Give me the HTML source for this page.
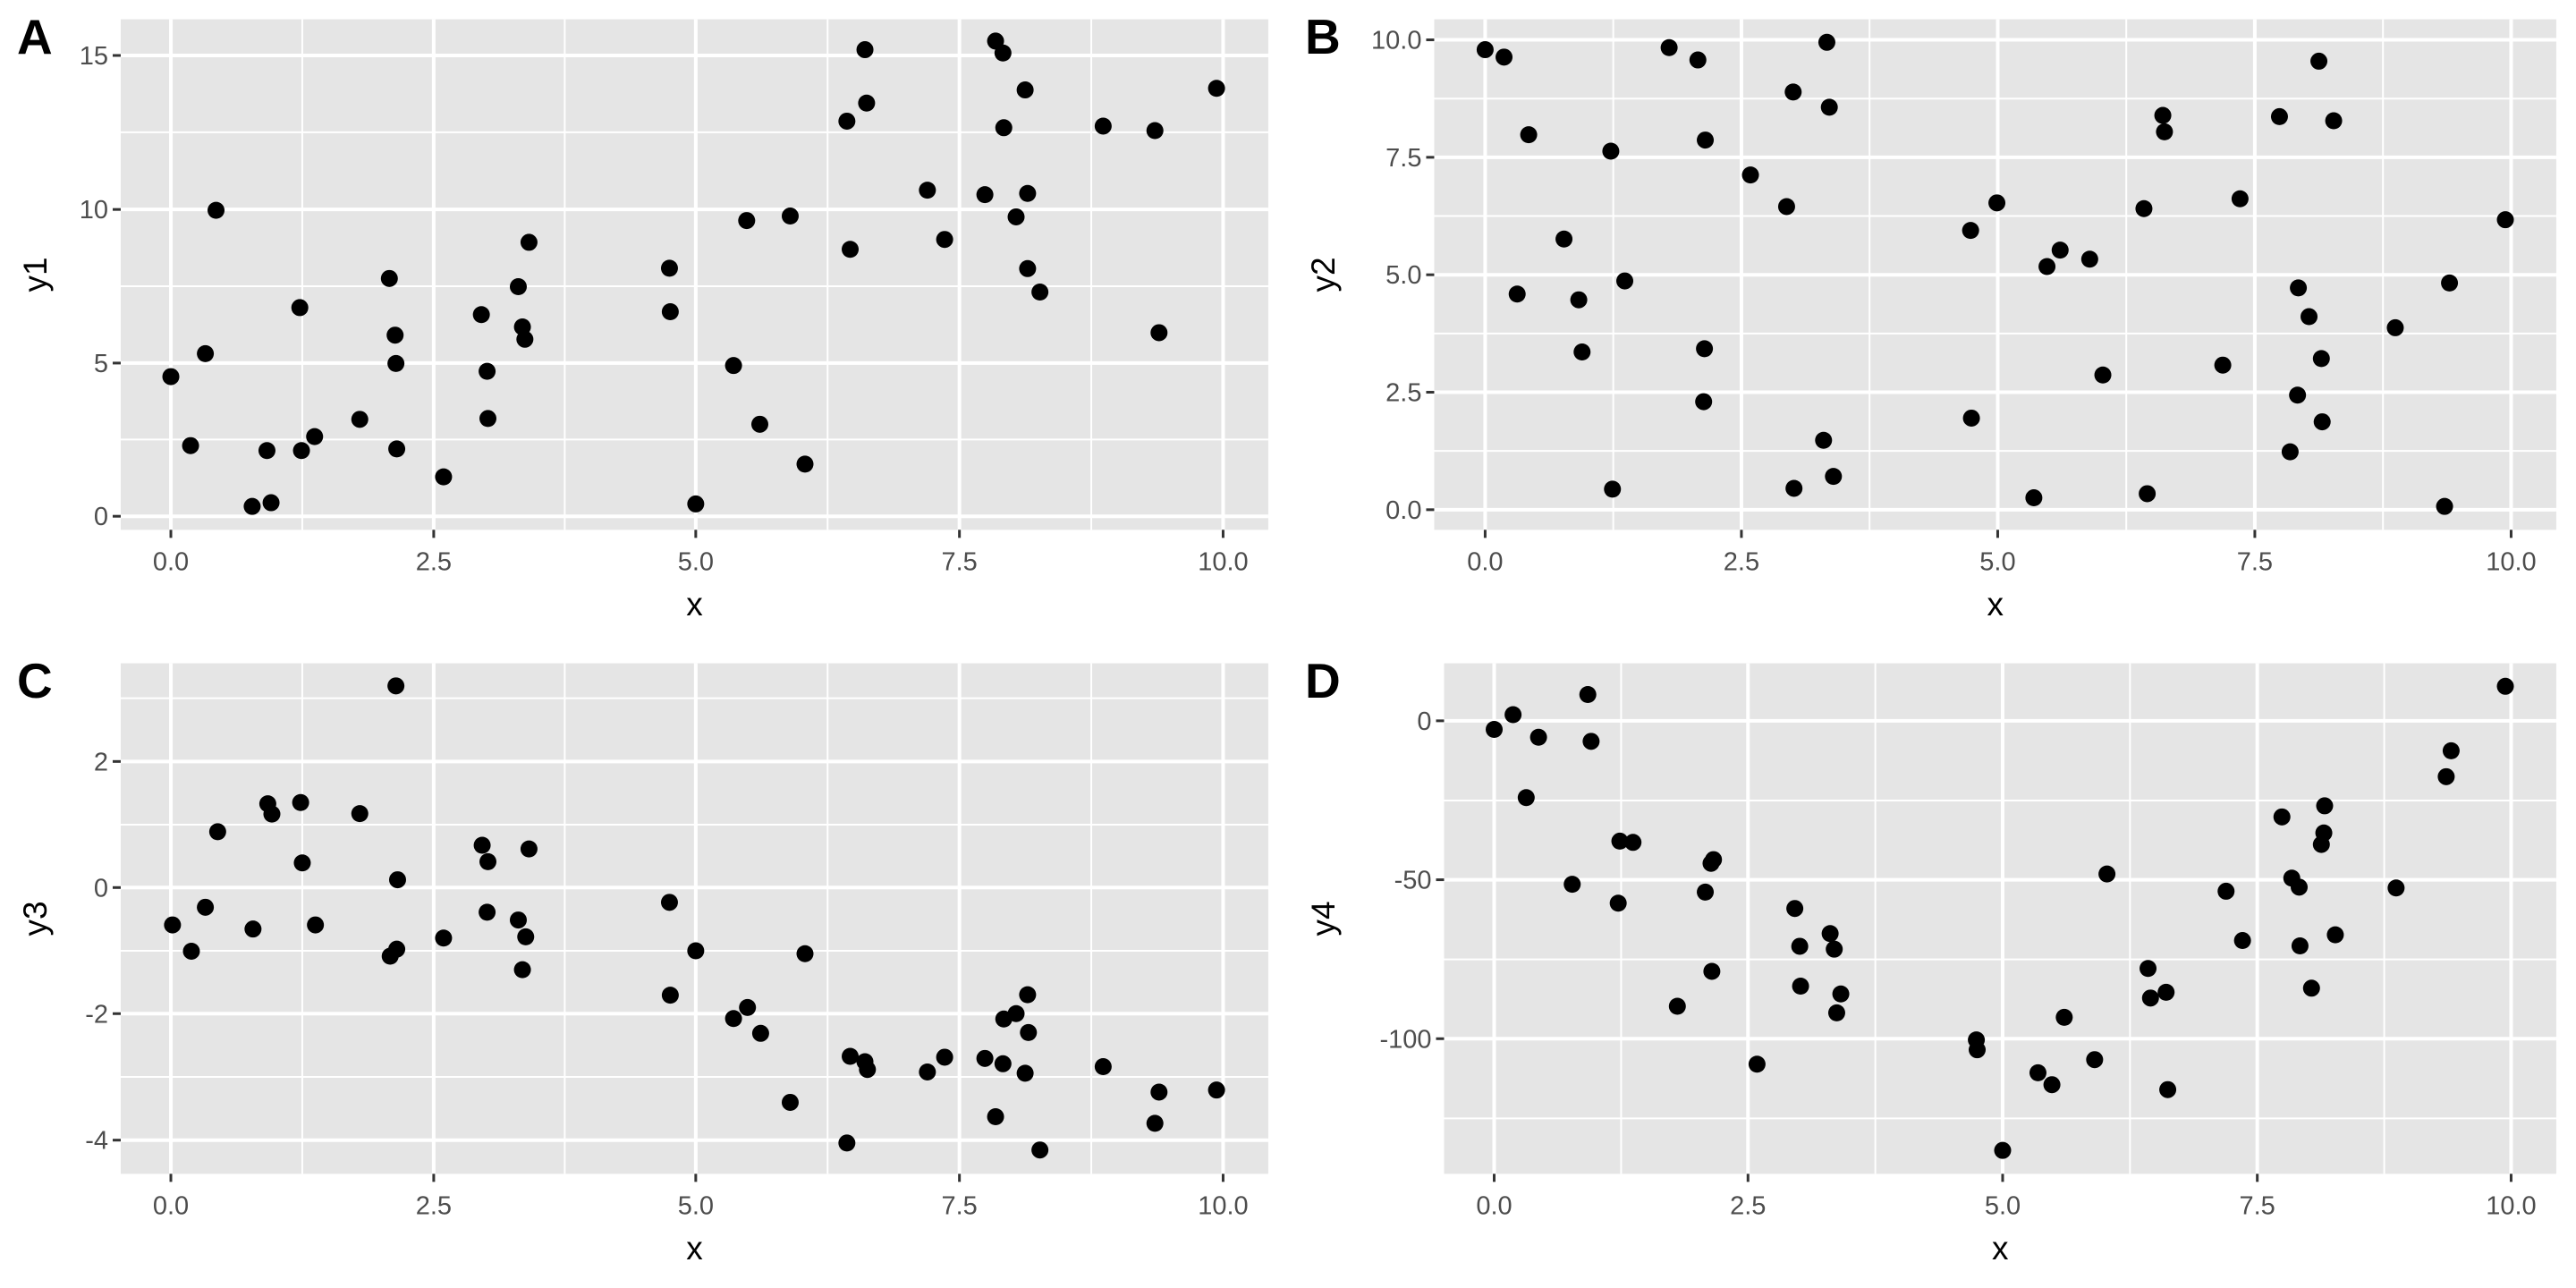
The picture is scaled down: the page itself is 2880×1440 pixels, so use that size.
<!DOCTYPE html>
<html><head><meta charset="utf-8">
<style>html,body{margin:0;padding:0;background:#fff;}svg{display:block;}</style>
</head><body>
<svg id="s" xmlns="http://www.w3.org/2000/svg" width="2880" height="1440" viewBox="0 0 2880 1440" font-family="Liberation Sans, Arial, sans-serif"></svg>
<script>
var S=document.getElementById('s');
var kx=1440/1568, ky=720/1568;
function el(t,a,txt){var e=document.createElementNS('http://www.w3.org/2000/svg',t);for(var k in a)e.setAttribute(k,a[k]);if(txt!==undefined)e.textContent=txt;S.appendChild(e);return e;}
var panels=[
{ox:0,oy:0,L:'A',yt:'y1',bg:[147,1544,47,1290],xs:[208,528,847,1168,1489],
 ys:[[1257,'0'],[884,'5'],[510,'10'],[135,'15']],ym:[1070,697,322],
 p:[[208,917],[232,1085],[250,861],[263,512],[307,1233],[325,1097],[330,1224],[365,749],[367,1097],[383,1063],[438,1021],[474,678],[481,816],[482,885],[483,1093],[540,1161],[586,766],[593,904],[594,1019],[631,698],[636,796],[639,826],[644,590],[815,653],[816,759],[847,1227],[893,890],[909,537],[925,1033],[962,526],[980,1130],[1031,295],[1035,607],[1053,121],[1055,251],[1129,463],[1150,583],[1199,474],[1212,100],[1221,129],[1222,311],[1237,528],[1248,219],[1251,471],[1251,654],[1266,711],[1343,307],[1406,318],[1411,810],[1481,215]]},
{ox:1440,oy:0,L:'B',yt:'y2',bg:[178,1544,47,1290],xs:[240,552,864,1177,1489],
 ys:[[1241,'0.0'],[955,'2.5'],[669,'5.0'],[383,'7.5'],[97,'10.0']],ym:[1098,812,526,240],
 p:[[240,121],[263,139],[293,328],[279,716],[336,582],[354,730],[358,857],[393,368],[395,1191],[410,684],[464,116],[499,146],[508,341],[507,849],[506,978],[563,426],[607,503],[615,224],[616,1189],[652,1072],[656,103],[659,261],[664,1160],[831,561],[832,1018],[863,494],[908,1212],[924,649],[940,609],[976,631],[992,913],[1042,508],[1046,1202],[1065,281],[1067,321],[1138,889],[1159,484],[1207,284],[1220,1100],[1229,962],[1230,701],[1243,771],[1255,149],[1258,873],[1259,1027],[1273,294],[1348,798],[1408,1233],[1414,689],[1482,535]]},
{ox:0,oy:720,L:'C',yt:'y3',bg:[147,1544,47,1290],xs:[208,528,847,1168,1489],
 ys:[[1208,'-4'],[900,'-2'],[593,'0'],[286,'2']],ym:[1054,747,440,132],
 p:[[210,684],[233,748],[250,641],[265,457],[308,694],[326,389],[331,414],[366,386],[368,533],[384,684],[438,413],[475,760],[483,743],[484,574],[482,102],[540,716],[587,490],[594,530],[593,653],[631,672],[636,793],[640,713],[644,499],[815,629],[816,855],[847,747],[893,912],[910,885],[926,948],[962,1116],[980,754],[1031,1215],[1035,1004],[1053,1017],[1056,1036],[1129,1042],[1150,1006],[1199,1009],[1212,1151],[1221,1022],[1222,913],[1237,900],[1248,1045],[1251,854],[1252,946],[1266,1232],[1343,1029],[1406,1167],[1411,1091],[1481,1086]]},
{ox:1440,oy:720,L:'D',yt:'y4',bg:[190,1544,47,1290],xs:[251,560,870,1180,1489],
 ys:[[961,'-100'],[574,'-50'],[187,'0']],ym:[1155,768,381],
 p:[[251,208],[274,172],[290,374],[305,227],[346,585],[365,123],[369,237],[402,631],[404,480],[420,483],[474,882],[508,604],[515,534],[518,525],[516,797],[571,1023],[617,644],[623,736],[624,833],[660,705],[665,743],[668,898],[673,852],[838,964],[839,988],[870,1233],[913,1044],[930,1073],[945,909],[982,1012],[997,560],[1047,790],[1050,862],[1069,848],[1071,1085],[1142,602],[1162,722],[1210,421],[1222,570],[1231,592],[1232,735],[1246,838],[1258,488],[1261,460],[1262,394],[1275,708],[1349,594],[1410,323],[1416,260],[1482,103]]}
];
var xl=['0.0','2.5','5.0','7.5','10.0'];
panels.forEach(function(P){
 function X(z){return P.ox+z*kx;} function Y(z){return P.oy+z*ky;}
 var x0=X(P.bg[0]),x1=X(P.bg[1]),y0=Y(P.bg[2]),y1=Y(P.bg[3]);
 el('rect',{x:x0,y:y0,width:x1-x0,height:y1-y0,fill:'#e5e5e5'});
 for(var i=0;i<P.xs.length-1;i++){var m=X((P.xs[i]+P.xs[i+1])/2);el('line',{x1:m,x2:m,y1:y0,y2:y1,stroke:'#fff','stroke-width':2});}
 P.ym.forEach(function(z){el('line',{x1:x0,x2:x1,y1:Y(z),y2:Y(z),stroke:'#fff','stroke-width':2});});
 P.xs.forEach(function(z,i){var x=X(z);el('line',{x1:x,x2:x,y1:y0,y2:y1,stroke:'#fff','stroke-width':4});
  el('line',{x1:x,x2:x,y1:y1,y2:y1+9,stroke:'#333','stroke-width':3});
  el('text',{x:x,y:y1+45,'font-size':29,fill:'#4d4d4d','text-anchor':'middle'},xl[i]);});
 P.ys.forEach(function(a){var y=Y(a[0]);el('line',{x1:x0,x2:x1,y1:y,y2:y,stroke:'#fff','stroke-width':4});
  el('line',{x1:x0-9,x2:x0,y1:y,y2:y,stroke:'#333','stroke-width':3});
  el('text',{x:x0-14,y:y+10,'font-size':29,fill:'#4d4d4d','text-anchor':'end'},a[1]);});
 P.p.forEach(function(q){el('circle',{cx:X(q[0]),cy:Y(q[1]),r:9.5,fill:'#000'});});
 el('text',{x:(x0+x1)/2,y:P.oy+688,'font-size':37,fill:'#000','text-anchor':'middle'},'x');
 var cy=(y0+y1)/2, tx=P.ox+52;
 el('text',{x:tx,y:cy,'font-size':37,fill:'#000','text-anchor':'middle',transform:'rotate(-90 '+tx+' '+cy+')'},P.yt);
 el('text',{x:P.ox+19,y:P.oy+60,'font-size':55,'font-weight':'bold',fill:'#000'},P.L);
});
</script>
</body></html>
